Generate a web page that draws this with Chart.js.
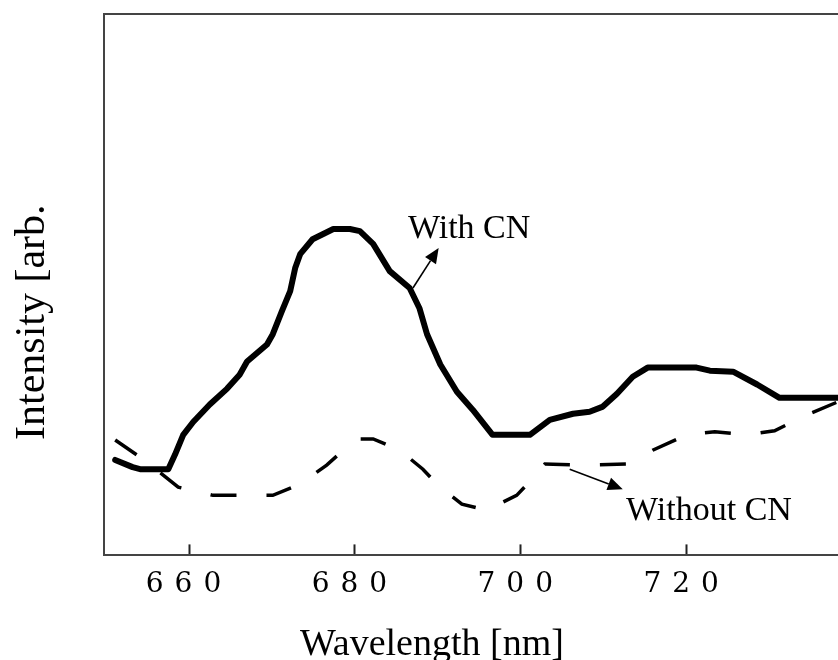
<!DOCTYPE html>
<html><head><meta charset="utf-8">
<script src="https://cdn.jsdelivr.net/npm/chart.js@4/dist/chart.umd.min.js"></script>
<style>html,body{margin:0;padding:0;background:#fff;} #wrap{width:838px;height:660px;position:relative;}</style>
</head><body><div id="wrap"><canvas id="c" width="838" height="660"></canvas></div>
<script>
// ---- data ----
const withCN_x = [651.1, 653.2, 654.1, 657.5, 658.3, 659.3, 660.5, 662.5, 664.6, 666.1, 667.0, 669.4, 670.1, 671.2, 672.2, 672.8, 673.4, 674.9, 677.4, 679.4, 680.6, 682.2, 684.2, 686.6, 687.8, 688.7, 690.3, 692.3, 694.2, 696.6, 701.1, 703.5, 706.3, 708.3, 709.9, 711.6, 713.5, 715.3, 721.2, 722.8, 725.6, 728.5, 731.2, 738.2];
const withCN_y = [18.6, 17.2, 16.8, 16.8, 19.6, 23.5, 26.0, 29.4, 32.5, 35.2, 37.8, 41.1, 43.1, 47.6, 51.5, 56.0, 58.7, 61.6, 63.6, 63.6, 63.2, 60.7, 55.4, 52.1, 48.1, 43.1, 37.2, 31.9, 28.4, 23.5, 23.5, 26.4, 27.6, 28.0, 29.0, 31.5, 34.8, 36.6, 36.6, 36.0, 35.8, 33.3, 30.7, 30.7];
const withoutCN_x = [651.1, 653.7, 656.7, 658.7, 662.9, 665.9, 670.1, 673.4, 676.6, 678.6, 680.4, 682.2, 685.4, 688.2, 690.0, 692.9, 695.9, 699.5, 701.4, 702.9, 708.3, 712.8, 715.9, 720.0, 723.4, 727.3, 730.6, 734.5, 738.2];
const withoutCN_y = [22.5, 19.6, 15.9, 13.3, 11.7, 11.7, 11.7, 13.9, 17.6, 20.5, 22.7, 22.7, 20.5, 16.8, 13.7, 10.0, 8.8, 11.7, 14.9, 17.8, 17.6, 17.8, 20.5, 23.5, 24.1, 23.5, 24.3, 27.4, 29.9];
const xTicks = [660, 680, 700, 720];
const xTitle = 'Wavelength [nm]';
const yTitle = 'Intensity [arb.';
const labelWith = 'With CN';
const labelWithout = 'Without CN';
// annotation anchors in data units
const withLabelPos = [686.4, 61.8];
const withArrow = [687.0, 52.1, 690.1, 59.9];
const withoutLabelPos = [712.7, 6.85];
const withoutArrow = [705.9, 16.8, 712.3, 12.9];

function pts(xs, ys) { return xs.map((x, i) => ({ x: x, y: ys[i] })); }

function arrow(ctx, x0, y0, x1, y1) {
  const ang = Math.atan2(y1 - y0, x1 - x0), hl = 15, hw = 6.5;
  const bx = x1 - hl * Math.cos(ang), by = y1 - hl * Math.sin(ang);
  ctx.beginPath(); ctx.moveTo(x0, y0); ctx.lineTo(bx, by); ctx.stroke();
  ctx.beginPath();
  ctx.moveTo(x1, y1);
  ctx.lineTo(bx + hw * Math.sin(ang), by - hw * Math.cos(ang));
  ctx.lineTo(bx - hw * Math.sin(ang), by + hw * Math.cos(ang));
  ctx.closePath(); ctx.fill();
}

const decor = {
  id: 'decor',
  beforeDraw(chart) { chart.ctx.letterSpacing = '11px'; },
  beforeDatasetsDraw(chart) { chart.ctx.letterSpacing = '0px'; },
  afterDraw(chart) {
    const { ctx, chartArea: a, scales: { x, y } } = chart;
    ctx.save();
    ctx.letterSpacing = '0px';
    ctx.strokeStyle = '#444'; ctx.lineWidth = 2;
    ctx.beginPath(); ctx.moveTo(a.left - 1, a.top); ctx.lineTo(a.right, a.top); ctx.stroke();
    ctx.fillStyle = '#000'; ctx.strokeStyle = '#000';
    ctx.textBaseline = 'alphabetic'; ctx.textAlign = 'left';
    ctx.font = '38px "Liberation Serif"';
    ctx.fillText(xTitle, 300, 655);
    ctx.save();
    ctx.translate(44, 440); ctx.rotate(-Math.PI / 2);
    ctx.font = '42px "Liberation Serif"';
    ctx.fillText(yTitle, 0, 0);
    ctx.restore();
    ctx.font = '34px "Liberation Serif"';
    ctx.fillText(labelWith, x.getPixelForValue(withLabelPos[0]), y.getPixelForValue(withLabelPos[1]));
    ctx.fillText(labelWithout, x.getPixelForValue(withoutLabelPos[0]), y.getPixelForValue(withoutLabelPos[1]));
    ctx.lineWidth = 1.6;
    arrow(ctx, x.getPixelForValue(withArrow[0]), y.getPixelForValue(withArrow[1]), x.getPixelForValue(withArrow[2]), y.getPixelForValue(withArrow[3]));
    arrow(ctx, x.getPixelForValue(withoutArrow[0]), y.getPixelForValue(withoutArrow[1]), x.getPixelForValue(withoutArrow[2]), y.getPixelForValue(withoutArrow[3]));
    ctx.restore();
  }
};

new Chart(document.getElementById('c'), {
  type: 'line',
  data: {
    datasets: [
      { label: labelWith, data: pts(withCN_x, withCN_y), borderColor: '#000', borderWidth: 6, borderJoinStyle: 'round', borderCapStyle: 'round', pointRadius: 0, tension: 0, fill: false },
      { label: labelWithout, data: pts(withoutCN_x, withoutCN_y), borderColor: '#000', borderWidth: 3.5, borderDash: [26, 30], borderCapStyle: 'butt', pointRadius: 0, tension: 0, fill: false }
    ]
  },
  options: {
    responsive: false, animation: false, devicePixelRatio: 1, parsing: true,
    layout: { padding: { left: 96, top: 14, right: 0, bottom: 34 } },
    plugins: { legend: { display: false }, tooltip: { enabled: false } },
    scales: {
      x: {
        type: 'linear', min: 649.75, max: 738.25,
        afterBuildTicks: s => { s.ticks = xTicks.map(v => ({ value: v })); },
        grid: { display: true, drawOnChartArea: false, drawTicks: true, tickLength: -11, tickWidth: 2, tickColor: '#222' },
        border: { display: true, width: 2, color: '#444' },
        ticks: { color: '#000', font: { family: 'DejaVu Serif', size: 28 }, padding: 24, maxRotation: 0, autoSkip: false }
      },
      y: {
        min: 0, max: 105.5,
        ticks: { display: false }, grid: { display: false },
        border: { display: true, width: 2, color: '#444' }
      }
    }
  },
  plugins: [decor]
});
</script></body></html>
